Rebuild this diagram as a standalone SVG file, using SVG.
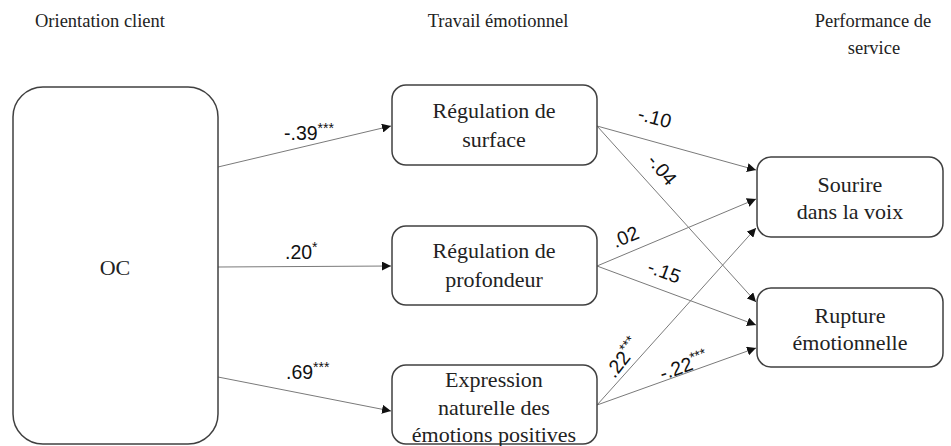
<svg xmlns="http://www.w3.org/2000/svg" width="951" height="446" viewBox="0 0 951 446">
<style>
.box{fill:#fff;stroke:#404040;stroke-width:1.5}
.hd{font-family:'Liberation Serif','Times New Roman',serif;font-size:18.5px;fill:#222;text-anchor:middle}
.nt{font-family:'Liberation Serif','Times New Roman',serif;font-size:22px;fill:#222;text-anchor:middle}
.lb{font-family:'Liberation Sans',Arial,sans-serif;font-size:19.5px;fill:#111;text-anchor:middle}
.st{text-anchor:start}
.sup{font-size:14px}
.cn{stroke:#7a7a7a;stroke-width:1;fill:none;marker-end:url(#ah)}
</style>
<defs>
<marker id="ah" viewBox="0 0 10 10" refX="10" refY="5" markerWidth="9" markerHeight="9" markerUnits="userSpaceOnUse" orient="auto">
<path d="M0,0L10,5L0,10z" fill="#111"/>
</marker>
</defs>
<rect width="951" height="446" fill="#fff"/>
<g id="headers">
<text class="hd" x="100" y="27">Orientation client</text>
<text class="hd" x="498" y="27">Travail émotionnel</text>
<text class="hd" x="873" y="27">Performance de</text>
<text class="hd" x="874" y="54">service</text>
</g>
<g id="connectors">
<line class="cn" x1="218" y1="167" x2="391" y2="126"/>
<line class="cn" x1="218" y1="267" x2="391" y2="266"/>
<line class="cn" x1="218" y1="377" x2="391" y2="411"/>
<line class="cn" x1="597" y1="126" x2="756" y2="170"/>
<line class="cn" x1="597" y1="126" x2="756" y2="302"/>
<line class="cn" x1="597" y1="266" x2="756" y2="199"/>
<line class="cn" x1="597" y1="266" x2="756" y2="325"/>
<line class="cn" x1="597" y1="405" x2="756" y2="228"/>
<line class="cn" x1="597" y1="405" x2="756" y2="348"/>
</g>
<g id="labels">
<text class="lb st" x="284" y="140">-.39<tspan class="sup" dy="-7">***</tspan></text>
<text class="lb st" x="285" y="259">.20<tspan class="sup" dy="-7">*</tspan></text>
<text class="lb st" x="286" y="379">.69<tspan class="sup" dy="-7">***</tspan></text>
<text class="lb" transform="translate(653,124) rotate(15.6)">-.10</text>
<text class="lb" transform="translate(657,174) rotate(50)">-.04</text>
<text class="lb" transform="translate(628,243) rotate(-23)">.02</text>
<text class="lb" transform="translate(662,278) rotate(20.5)">-.15</text>
<text class="lb" transform="translate(628,362) rotate(-52)">.22<tspan class="sup" dy="-7">***</tspan></text>
<text class="lb" transform="translate(686,372) rotate(-19.8)">-.22<tspan class="sup" dy="-7">***</tspan></text>
</g>
<g id="oc">
<rect class="box" x="13" y="87" width="205" height="357" rx="30"/>
<text class="nt" x="115" y="275">OC</text>
</g>
<g id="surface">
<rect class="box" x="392" y="85" width="205" height="80" rx="14"/>
<text class="nt" x="494" y="118">Régulation de</text>
<text class="nt" x="494" y="147">surface</text>
</g>
<g id="profondeur">
<rect class="box" x="392" y="226" width="205" height="79" rx="14"/>
<text class="nt" x="494" y="258">Régulation de</text>
<text class="nt" x="494" y="287">profondeur</text>
</g>
<g id="expression">
<rect class="box" x="392" y="365" width="205" height="79" rx="14"/>
<text class="nt" x="494" y="387">Expression</text>
<text class="nt" x="494" y="415">naturelle des</text>
<text class="nt" x="494" y="442">émotions positives</text>
</g>
<g id="sourire">
<rect class="box" x="757" y="157" width="186" height="80" rx="14"/>
<text class="nt" x="850" y="192">Sourire</text>
<text class="nt" x="850" y="219">dans la voix</text>
</g>
<g id="rupture">
<rect class="box" x="757" y="288" width="186" height="79" rx="14"/>
<text class="nt" x="850" y="323">Rupture</text>
<text class="nt" x="850" y="350">émotionnelle</text>
</g>
</svg>
